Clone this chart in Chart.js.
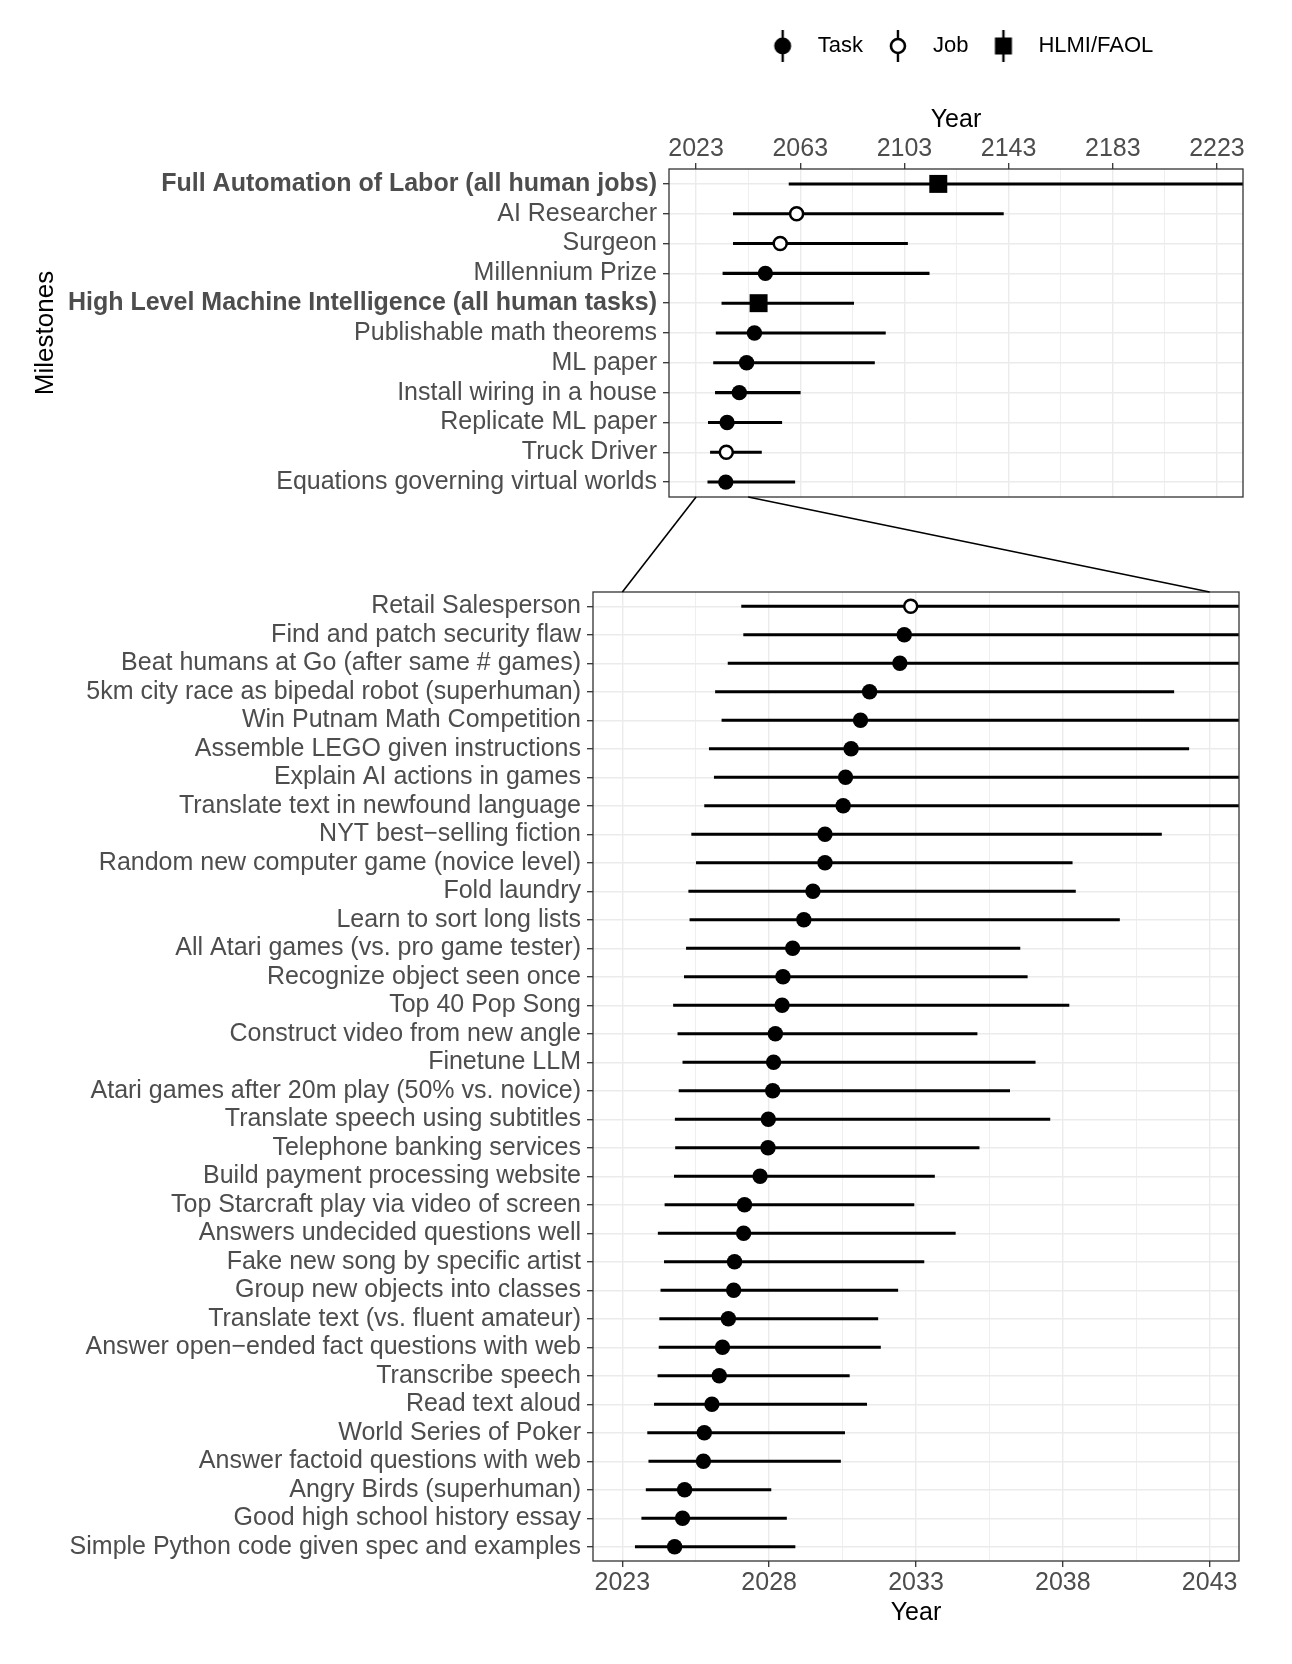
<!DOCTYPE html>
<html>
<head>
<meta charset="utf-8">
<script src="https://cdn.jsdelivr.net/npm/chart.js@4.4.1/dist/chart.umd.min.js"></script>
<style>
    body { margin: 0; background: #fff; }
    #wrap { position: relative; width: 1292px; height: 1664px; }
    #top_chart { position: absolute; left: 0; top: 0; }
    #bottom_chart { position: absolute; left: 0; top: 480px; }
</style>
</head>
<body>
<div id="wrap">
    <canvas id="top_chart" width="1292" height="500"></canvas>
    <canvas id="bottom_chart" width="1292" height="1184"></canvas>
</div>
<script>
// Top panel: all milestones
var topMilestones = ['Full Automation of Labor (all human jobs)', 'AI Researcher', 'Surgeon', 'Millennium Prize',
    'High Level Machine Intelligence (all human tasks)', 'Publishable math theorems', 'ML paper',
    'Install wiring in a house', 'Replicate ML paper', 'Truck Driver', 'Equations governing virtual worlds'];
var topKind = ['HLMI', 'Job', 'Job', 'Task', 'HLMI', 'Task', 'Task', 'Task', 'Task', 'Job', 'Task'];
var topMedian = [2116, 2061.6, 2055.3, 2049.6, 2047, 2045.4, 2042.4, 2039.6, 2034.9, 2034.6, 2034.4];
var topLow = [2058.7, 2037.3, 2037.3, 2033.3, 2032.9, 2030.7, 2029.7, 2030.4, 2027.7, 2028.5, 2027.5];
var topHigh = [2300, 2141, 2104.2, 2112.5, 2083.5, 2095.7, 2091.5, 2063, 2055.9, 2048.1, 2060.9];
var topTickLabels = [2023, 2063, 2103, 2143, 2183, 2223];
var topMinorTicks = [2043, 2083, 2123, 2163, 2203];

// Bottom panel: zoom on 2023-2043
var bottomMilestones = ['Retail Salesperson', 'Find and patch security flaw', 'Beat humans at Go (after same # games)',
    '5km city race as bipedal robot (superhuman)', 'Win Putnam Math Competition', 'Assemble LEGO given instructions',
    'Explain AI actions in games', 'Translate text in newfound language', 'NYT best\u2212selling fiction',
    'Random new computer game (novice level)', 'Fold laundry', 'Learn to sort long lists',
    'All Atari games (vs. pro game tester)', 'Recognize object seen once', 'Top 40 Pop Song',
    'Construct video from new angle', 'Finetune LLM', 'Atari games after 20m play (50% vs. novice)',
    'Translate speech using subtitles', 'Telephone banking services', 'Build payment processing website',
    'Top Starcraft play via video of screen', 'Answers undecided questions well', 'Fake new song by specific artist',
    'Group new objects into classes', 'Translate text (vs. fluent amateur)', 'Answer open\u2212ended fact questions with web',
    'Transcribe speech', 'Read text aloud', 'World Series of Poker', 'Answer factoid questions with web',
    'Angry Birds (superhuman)', 'Good high school history essay', 'Simple Python code given spec and examples'];
var bottomKind = ['Job', 'Task', 'Task', 'Task', 'Task', 'Task', 'Task', 'Task', 'Task', 'Task', 'Task', 'Task',
    'Task', 'Task', 'Task', 'Task', 'Task', 'Task', 'Task', 'Task', 'Task', 'Task', 'Task', 'Task', 'Task', 'Task',
    'Task', 'Task', 'Task', 'Task', 'Task', 'Task', 'Task', 'Task'];
var bottomMedian = [2032.82, 2032.6, 2032.45, 2031.42, 2031.11, 2030.79, 2030.6, 2030.52, 2029.9, 2029.9, 2029.49,
    2029.18, 2028.8, 2028.47, 2028.44, 2028.21, 2028.15, 2028.12, 2027.97, 2027.96, 2027.69, 2027.16, 2027.13,
    2026.82, 2026.79, 2026.61, 2026.41, 2026.3, 2026.05, 2025.79, 2025.76, 2025.12, 2025.05, 2024.78];
var bottomLow = [2027.06, 2027.13, 2026.6, 2026.17, 2026.39, 2025.96, 2026.13, 2025.8, 2025.36, 2025.52, 2025.26,
    2025.3, 2025.18, 2025.11, 2024.74, 2024.89, 2025.06, 2024.93, 2024.8, 2024.81, 2024.77, 2024.45, 2024.22,
    2024.43, 2024.31, 2024.27, 2024.25, 2024.21, 2024.09, 2023.86, 2023.9, 2023.81, 2023.66, 2023.44];
var bottomHigh = [2048, 2047, 2050, 2041.78, 2045.5, 2042.29, 2046, 2046, 2041.36, 2038.32, 2038.43,
    2039.93, 2036.54, 2036.79, 2038.21, 2035.08, 2037.06, 2036.19, 2037.56, 2035.15, 2033.63, 2032.93, 2034.34,
    2033.27, 2032.38, 2031.7, 2031.79, 2030.73, 2031.32, 2030.57, 2030.43, 2028.06, 2028.59, 2028.88];
var bottomTickLabels = [2023, 2028, 2033, 2038, 2043];
var bottomMinorTicks = [2025.5, 2030.5, 2035.5, 2040.5];

var zoomRange = [2023, 2043];
var legendLabels = ['Task', 'Job', 'HLMI/FAOL'];
var legendKinds = ['Task', 'Job', 'HLMI'];

var FONT = "'Liberation Sans', Arial, Helvetica, sans-serif";
var LABEL_GREY = '#4d4d4d';

function buildDatasets(labels, kind, median, low, high) {
    function pointsOf(k) {
        var out = [];
        labels.forEach(function (name, i) {
            if (kind[i] === k) out.push({ x: median[i], y: name });
        });
        return out;
    }
    return [
        { type: 'scatter', label: 'Task', data: pointsOf('Task'), pointRadius: 7.7, pointBackgroundColor: '#000',
          pointBorderWidth: 0, order: 1, clip: 0 },
        { type: 'scatter', label: 'Job', data: pointsOf('Job'), pointRadius: 6.5, pointBackgroundColor: '#fff',
          pointBorderColor: '#000', pointBorderWidth: 2.5, order: 1, clip: 0 },
        { type: 'scatter', label: 'HLMI/FAOL', data: pointsOf('HLMI'), pointStyle: 'rect', pointRadius: 12.7,
          pointBackgroundColor: '#000', pointBorderWidth: 0, order: 1, clip: 0 },
        { type: 'bar', label: 'range', data: labels.map(function (n, i) { return [low[i], high[i]]; }),
          backgroundColor: '#000', barThickness: 2.4, order: 2, clip: 0 }
    ];
}

function legendGlyph(kind) {
    var c = document.createElement('canvas');
    c.width = 24; c.height = 34;
    var g = c.getContext('2d');
    g.strokeStyle = '#000';
    g.lineWidth = 2.4;
    g.beginPath(); g.moveTo(12, 1); g.lineTo(12, 33); g.stroke();
    if (kind === 'HLMI') {
        g.fillStyle = '#000';
        g.fillRect(3.5, 8.5, 17, 17);
    } else {
        g.beginPath();
        g.arc(12, 17, kind === 'Job' ? 7 : 8.5, 0, 2 * Math.PI);
        g.fillStyle = kind === 'Job' ? '#fff' : '#000';
        g.fill();
        if (kind === 'Job') { g.lineWidth = 2.6; g.stroke(); }
    }
    return c;
}

var panelBox = {
    id: 'panelBox',
    afterDraw: function (chart) {
        var a = chart.chartArea, ctx = chart.ctx;
        ctx.save();
        ctx.strokeStyle = '#333';
        ctx.lineWidth = 1.3;
        ctx.strokeRect(a.left, a.top, a.right - a.left, a.bottom - a.top);
        ctx.restore();
    }
};

function xScaleOptions(minV, maxV, labels, minors, position, extra) {
    var all = labels.concat(minors).sort(function (a, b) { return a - b; });
    var opts = {
        type: 'linear',
        position: position,
        min: minV,
        max: maxV,
        beginAtZero: false,
        afterBuildTicks: function (scale) {
            scale.ticks = all.map(function (v) { return { value: v }; });
        },
        ticks: {
            autoSkip: false,
            maxRotation: 0,
            color: LABEL_GREY,
            font: { family: FONT, size: 25, lineHeight: 1 },
            callback: function (value) { return labels.indexOf(value) >= 0 ? String(value) : ''; }
        },
        grid: {
            color: '#ebebeb',
            lineWidth: function (ctx) { return ctx.tick && labels.indexOf(ctx.tick.value) >= 0 ? 1.4 : 0.8; },
            tickColor: function (ctx) { return ctx.tick && labels.indexOf(ctx.tick.value) >= 0 ? '#333' : 'rgba(0,0,0,0)'; },
            tickLength: 6,
            tickWidth: 1.3
        },
        border: { display: false },
        title: { display: true, text: 'Year', color: '#000', font: { family: FONT, size: 25, lineHeight: 1.2 } }
    };
    for (var k in extra) opts[k] = extra[k];
    return opts;
}

function yScaleOptions(labels, kind, width, withTitle) {
    return {
        type: 'category',
        labels: labels,
        offset: true,
        afterFit: function (scale) {
            scale.width = width;
            // rows already sit inside the panel, no extra room needed for the end labels
            scale.paddingTop = 0;
            scale.paddingBottom = 0;
        },
        ticks: {
            autoSkip: false,
            padding: 6,
            color: LABEL_GREY,
            font: function (ctx) {
                return { family: FONT, size: 25, lineHeight: 1, weight: kind[ctx.index] === 'HLMI' ? 'bold' : 'normal' };
            }
        },
        grid: { offset: false, color: '#ebebeb', lineWidth: 1.4, tickColor: '#333', tickLength: 6, tickWidth: 1.3 },
        border: { display: false },
        title: { display: withTitle, text: 'Milestones', color: '#000', padding: { top: 30 },
                 font: { family: FONT, size: 26, lineHeight: 1.2 } }
    };
}

var glyphs = legendKinds.map(legendGlyph);

var topXOpts = xScaleOptions(2012.6, 2233, topTickLabels, topMinorTicks, 'top', {
    afterFit: function (scale) {
        var lh = scale.chart.legend ? scale.chart.legend.height : 42;
        scale.height = 169 - 24 - lh;
    }
});
topXOpts.ticks.padding = 1.5;
topXOpts.title.padding = { top: 38, bottom: 0 };

var topChart = new Chart(document.getElementById('top_chart').getContext('2d'), {
    type: 'bar',
    data: {
        labels: topMilestones,
        datasets: buildDatasets(topMilestones, topKind, topMedian, topLow, topHigh)
    },
    options: {
        indexAxis: 'y',
        responsive: false,
        animation: false,
        events: [],
        layout: { autoPadding: false, padding: { top: 24, right: 49, bottom: 3, left: 0 } },
        scales: {
            x: topXOpts,
            y: yScaleOptions(topMilestones, topKind, 669, true)
        },
        plugins: {
            tooltip: { enabled: false },
            legend: {
                position: 'top',
                align: 'center',
                fullSize: false,
                labels: {
                    usePointStyle: true,
                    pointStyleWidth: 48,
                    padding: 11,
                    color: '#000',
                    font: { family: FONT, size: 22 },
                    generateLabels: function () {
                        return legendLabels.map(function (t, i) {
                            return { text: t, pointStyle: glyphs[i], fontColor: '#000', fillStyle: '#000',
                                     strokeStyle: 'rgba(0,0,0,0)', lineWidth: 0, hidden: false, datasetIndex: i };
                        });
                    }
                }
            }
        }
    },
    plugins: [panelBox]
});

// lines linking the 2023-2043 window of the top panel to the bottom panel
var zoomLinks = {
    id: 'zoomLinks',
    afterDraw: function (chart) {
        var ctx = chart.ctx;
        var offset = chart.canvas.offsetTop - topChart.canvas.offsetTop;
        ctx.save();
        ctx.strokeStyle = '#000';
        ctx.lineWidth = 1.6;
        zoomRange.forEach(function (yr) {
            ctx.beginPath();
            ctx.moveTo(topChart.scales.x.getPixelForValue(yr), topChart.chartArea.bottom - offset);
            ctx.lineTo(chart.scales.x.getPixelForValue(yr), chart.chartArea.top);
            ctx.stroke();
        });
        ctx.restore();
    }
};

var bottomXOpts = xScaleOptions(2022.0, 2044.0, bottomTickLabels, bottomMinorTicks, 'bottom', {
    afterFit: function (scale) { scale.height = 103; }
});
bottomXOpts.ticks.padding = 3.5;
bottomXOpts.title.padding = { top: 0, bottom: 36 };

var bottomChart = new Chart(document.getElementById('bottom_chart').getContext('2d'), {
    type: 'bar',
    data: {
        labels: bottomMilestones,
        datasets: buildDatasets(bottomMilestones, bottomKind, bottomMedian, bottomLow, bottomHigh)
    },
    options: {
        indexAxis: 'y',
        responsive: false,
        animation: false,
        events: [],
        layout: { autoPadding: false, padding: { top: 112, right: 53, bottom: 0, left: 0 } },
        scales: {
            x: bottomXOpts,
            y: yScaleOptions(bottomMilestones, bottomKind, 593, false)
        },
        plugins: {
            tooltip: { enabled: false },
            legend: { display: false }
        }
    },
    plugins: [panelBox, zoomLinks]
});
</script>
</body>
</html>
